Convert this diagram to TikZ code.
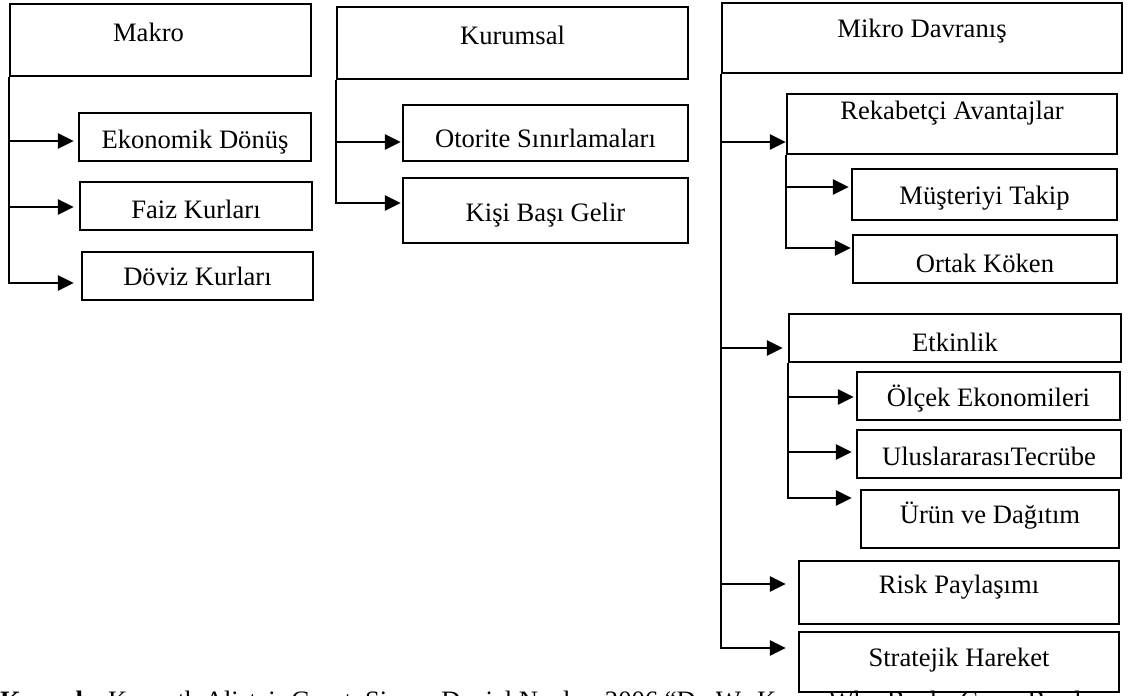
\documentclass[tikz,border=0pt]{standalone}
\usepackage{fontspec}
\setmainfont{Liberation Serif}
\usetikzlibrary{arrows.meta, positioning}

\begin{document}
\begin{tikzpicture}[
    x=1pt, y=-1pt,
    font=\fontsize{26.6}{32}\selectfont,
    box/.style={draw, line width=2.4pt, inner sep=0pt},
    arr/.style={line width=2.6pt, -{Triangle[length=16pt, width=15pt]}},
]
\useasboundingbox (0,0) rectangle (1133,696);

% Makro
\node[box, minimum width=301pt, minimum height=72pt, label={[xshift=-12pt, yshift=8pt]center:Makro}] (makro) at (160.5,40) {};
\node[box, minimum width=232pt, minimum height=48pt, label={[yshift=-5pt]center:Ekonomik Dönüş}] (ekon) at (195,137) {};
\node[box, minimum width=232pt, minimum height=48pt, label={[yshift=-3pt]center:Faiz Kurları}] (faiz) at (196,206) {};
\node[box, minimum width=231pt, minimum height=48pt, label={center:Döviz Kurları}] (doviz) at (197.5,276) {};

% Kurumsal
\node[box, minimum width=351pt, minimum height=72pt, label={[yshift=8pt]center:Kurumsal}] (kurum) at (512.5,43) {};
\node[box, minimum width=285pt, minimum height=56pt, label={[yshift=-5pt]center:Otorite Sınırlamaları}] (otorite) at (545.5,133) {};
\node[box, minimum width=285pt, minimum height=65pt, label={[yshift=-4.5pt]center:Kişi Başı Gelir}] (kisi) at (545.5,210.5) {};

% Mikro Davranis
\node[box, minimum width=400pt, minimum height=70pt, label={[yshift=7pt]center:Mikro Davranış}] (mikro) at (922,38) {};
\node[box, minimum width=330pt, minimum height=60pt, label={[yshift=11pt]center:Rekabetçi Avantajlar}] (rekabet) at (952,124) {};
\node[box, minimum width=265pt, minimum height=51pt, label={[yshift=-3.5pt]center:Müşteriyi Takip}] (musteri) at (984.5,194.5) {};
\node[box, minimum width=264pt, minimum height=48pt, label={[yshift=-4pt]center:Ortak Köken}] (ortak) at (985,259) {};
\node[box, minimum width=332pt, minimum height=48pt, label={[yshift=-4pt]center:Etkinlik}] (etkin) at (955,338) {};
\node[box, minimum width=263pt, minimum height=48pt, label={[yshift=-3pt]center:Ölçek Ekonomileri}] (olcek) at (988.5,396) {};
\node[box, minimum width=264pt, minimum height=48pt, label={[yshift=-2pt]center:UluslararasıTecrübe}] (ulus) at (989,454) {};
\node[box, minimum width=258pt, minimum height=58pt, label={[yshift=3pt]center:Ürün ve Dağıtım}] (urun) at (990,519) {};
\node[box, minimum width=320pt, minimum height=63pt, label={[yshift=5.5pt]center:Risk Paylaşımı}] (risk) at (959,592.5) {};
\node[box, minimum width=320pt, minimum height=60pt, label={[yshift=2pt]center:Stratejik Hareket}] (strat) at (959,662) {};

% Kaynak (cut by the page edge)
\node[anchor=base west, inner sep=0pt] (kaynak) at (0,709) {\textbf{Kaynak:} Kenneth Alistair Grant, Simon Daniel Naylor, 2006 “Do We Know Why Banks Cross Borders};

% Makro arrows
\draw[arr, shorten >=4pt] (makro.south west) |- ([yshift=-4pt]ekon.west);
\draw[arr, shorten >=5pt] (makro.south west) |- ([yshift=-1pt]faiz.west);
\draw[arr, shorten >=7pt] (makro.south west) |- ([yshift=-7pt]doviz.west);

% Kurumsal arrows
\draw[arr, shorten >=1pt] (kurum.south west) |- ([yshift=-9pt]otorite.west);
\draw[arr, shorten >=1pt] (kurum.south west) |- ([yshift=7.5pt]kisi.west);

% Mikro arrows
\draw[arr] (mikro.south west) |- ([yshift=-18pt]rekabet.west);
\draw[arr, shorten >=5pt] (mikro.south west) |- ([yshift=-10pt]etkin.west);
\draw[arr, shorten >=12pt] (mikro.south west) |- ([yshift=8.5pt]risk.west);
\draw[arr, shorten >=12pt] (mikro.south west) |- ([yshift=14pt]strat.west);

\draw[arr, shorten >=2pt] (rekabet.south west) |- ([yshift=7.5pt]musteri.west);
\draw[arr, shorten >=1pt] (rekabet.south west) |- ([yshift=11pt]ortak.west);

\draw[arr, shorten >=2pt] (etkin.south west) |- ([yshift=-1pt]olcek.west);
\draw[arr, shorten >=4pt] (etkin.south west) |- ([yshift=2pt]ulus.west);
\draw[arr, shorten >=8pt] (etkin.south west) |- ([yshift=21pt]urun.west);
\end{tikzpicture}
\end{document}
